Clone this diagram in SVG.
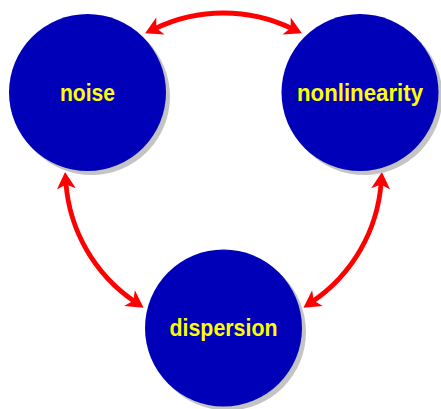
<svg xmlns="http://www.w3.org/2000/svg" width="441" height="409" viewBox="0 0 441 409">
<style>
.shadow{fill:#c4c4c4}
.node{fill:#0000b8}
.lbl{fill:#ffff00;font-family:"Liberation Sans",Arial,sans-serif;font-weight:bold;font-size:24px;text-anchor:middle}
.conn{fill:none;stroke:#ff0000;stroke-width:4.8}
</style>
<defs>
<marker id="ah" markerUnits="userSpaceOnUse" orient="auto-start-reverse" markerWidth="30" markerHeight="30" viewBox="-15 -15 30 30" refX="0" refY="0" overflow="visible">
<path d="M11,0 L-6,-9.5 L-1.5,0 L-6,9.5 Z" fill="#ff0000"/>
</marker>
</defs>
<rect width="441" height="409" fill="#ffffff"/>
<g id="connectors">
<path class="conn" d="M155,28.6 A158,158 0 0 1 292,28.6" marker-start="url(#ah)" marker-end="url(#ah)"/>
<path class="conn" d="M134.5,301.5 A158,158 0 0 1 65.9,182.9" marker-start="url(#ah)" marker-end="url(#ah)"/>
<path class="conn" d="M381.1,182.9 A158,158 0 0 1 312.5,301.5" marker-start="url(#ah)" marker-end="url(#ah)"/>
</g>
<g id="noise">
<circle class="shadow" cx="91.5" cy="96.5" r="78.5"/>
<circle class="node" cx="87.5" cy="92.5" r="78.5"/>
<text class="lbl" x="87.5" y="101" textLength="55" lengthAdjust="spacingAndGlyphs">noise</text>
</g>
<g id="nonlinearity">
<circle class="shadow" cx="364" cy="96.5" r="78.5"/>
<circle class="node" cx="360" cy="92.5" r="78.5"/>
<text class="lbl" x="360" y="100.5" textLength="126" lengthAdjust="spacingAndGlyphs">nonlinearity</text>
</g>
<g id="dispersion">
<circle class="shadow" cx="227.5" cy="332" r="78.5"/>
<circle class="node" cx="223.5" cy="328" r="78.5"/>
<text class="lbl" x="223.5" y="335.5" textLength="108" lengthAdjust="spacingAndGlyphs">dispersion</text>
</g>
</svg>
